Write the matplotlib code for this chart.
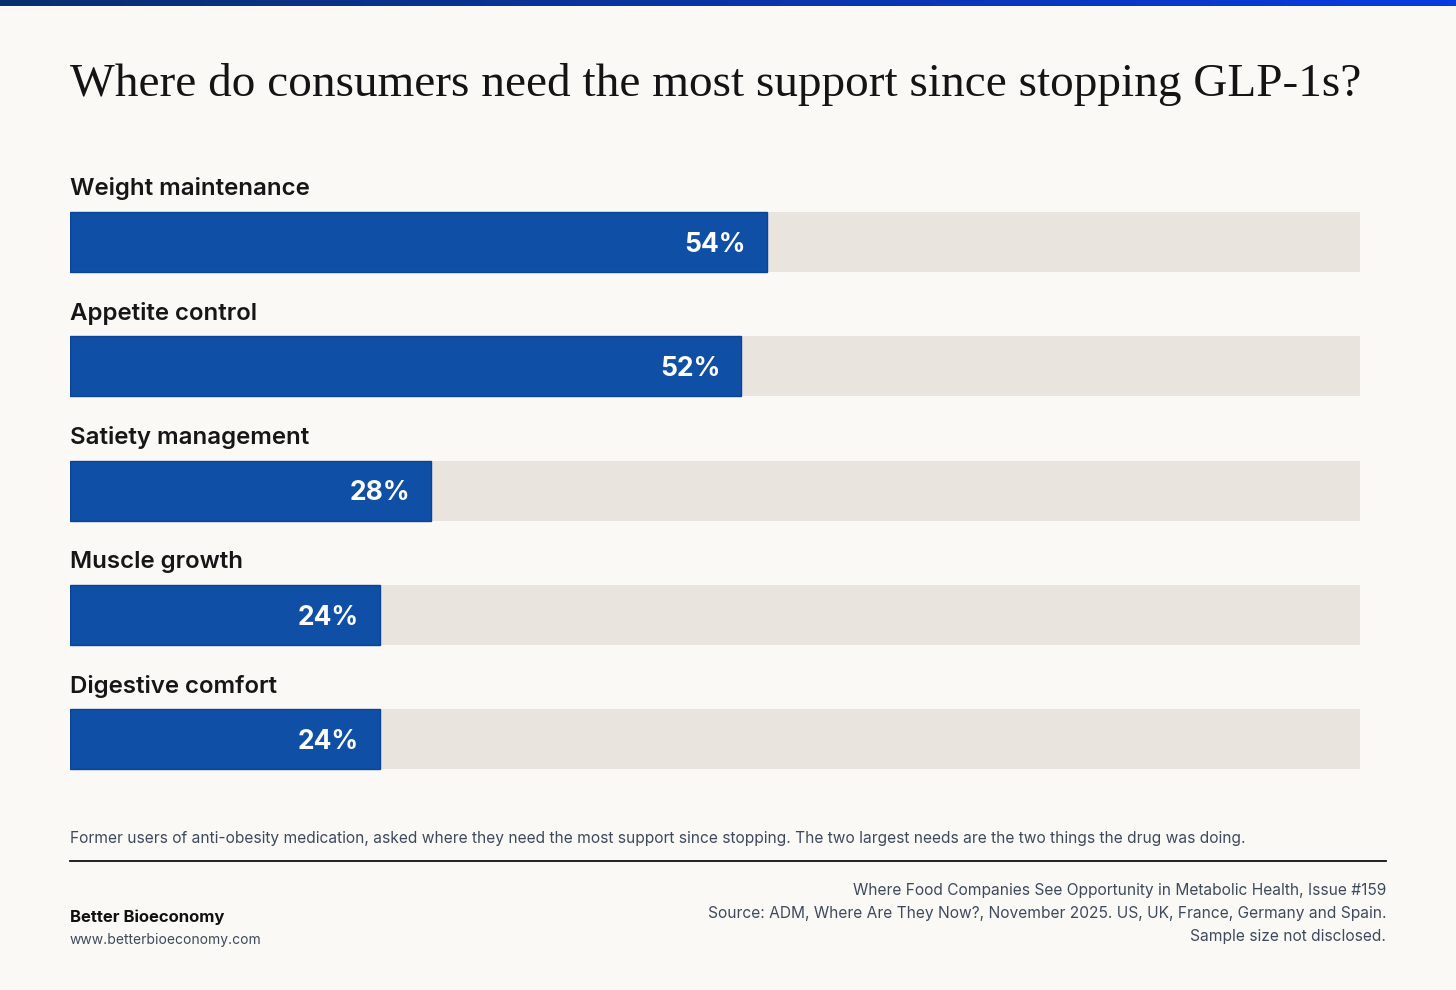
import numpy as np
import matplotlib.pyplot as plt
from matplotlib.colors import LinearSegmentedColormap

categories = ["Weight maintenance", "Appetite control", "Satiety management",
              "Muscle growth", "Digestive comfort"]
values = [54, 52, 28, 24, 24]

title = "Where do consumers need the most support since stopping GLP-1s?"
note = ("Former users of anti-obesity medication, asked where they need the most support "
        "since stopping. The two largest needs are the two things the drug was doing.")
source_lines = ["Where Food Companies See Opportunity in Metabolic Health, Issue #159",
                "Source: ADM, Where Are They Now?, November 2025. US, UK, France, Germany and Spain.",
                "Sample size not disclosed."]

W, H = 1456, 990
bg = "#FAF9F6"
blue = "#0F4FA6"
track = "#E9E4DE"

fig = plt.figure(figsize=(W / 100, H / 100), dpi=100, facecolor=bg)

def fx(px):
    return px / W

def fy(py):
    return 1 - py / H

# gradient strip at the top
gax = fig.add_axes([0, fy(6), 1, 6 / H])
grad = np.linspace(0, 1, 256).reshape(1, -1)
cm = LinearSegmentedColormap.from_list("g", ["#0B2F6E", "#0A3BE0"])
gax.imshow(grad, aspect="auto", cmap=cm)
gax.axis("off")

fig.text(fx(70), fy(84), title, fontsize=34, family="Liberation Serif",
         color="#141414", va="center", ha="left")

# bar panel: x 0-100 maps to px 70-1360
ax = fig.add_axes([fx(70), fy(800), fx(1360) - fx(70), (800 - 170) / H])
ax.set_facecolor("none")
step = 124.25
ax.set_xlim(0, 100)
ax.set_ylim((800 - 242) / step, (170 - 242) / step)
ax.axis("off")

ypos = np.arange(len(categories))
bh = 60 / step
ax.barh(ypos, [100] * len(categories), height=bh, color=track, edgecolor="none")
ax.barh(ypos, values, height=bh, color=blue, edgecolor="#0B4396", linewidth=1)

for i, (c, v) in enumerate(zip(categories, values)):
    ax.text(0, i - 53 / step, c, fontsize=17.3, family="Inter", fontweight="semibold",
            color="#161616", va="center", ha="left")
    ax.text(v - 1.6, i + 3 / step, f"{v}%", fontsize=19, family="Inter", fontweight="bold",
            color="white", va="center", ha="right")

fig.text(fx(70), fy(839), note, fontsize=11.2, family="Inter", color="#3E4A5C",
         va="center", ha="left")

fig.add_artist(plt.Line2D([fx(70), fx(1386)], [fy(861), fy(861)], color="#111111", lw=1.3))

for k, line in enumerate(source_lines):
    fig.text(fx(1386), fy(890 + k * 23.5), line, fontsize=11.2, family="Inter",
             color="#3E4A5C", va="center", ha="right")

fig.text(fx(70), fy(917), "Better Bioeconomy", fontsize=12, family="Inter",
         fontweight="bold", color="#111111", va="center", ha="left")
fig.text(fx(70), fy(940), "www.betterbioeconomy.com", fontsize=10, family="Inter",
         color="#3E4A5C", va="center", ha="left")

fig.savefig("out.png", dpi=100, facecolor=bg)
